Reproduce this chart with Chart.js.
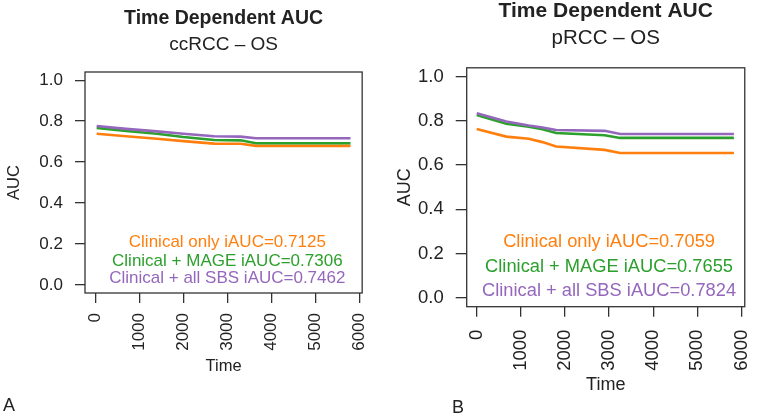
<!DOCTYPE html>
<html>
<head>
<meta charset="utf-8">
<script src="https://cdn.jsdelivr.net/npm/chart.js@4/dist/chart.umd.min.js"></script>
<style>
  body { margin: 0; background: #fff; width: 777px; height: 416px; position: relative; overflow: hidden;
         font-family: "Liberation Sans", Arial, Helvetica, sans-serif; }
  canvas { position: absolute; top: 0; }
  #chartA { left: 0; }
  #chartB { left: 390px; }
  .tag { position: absolute; font-size: 18px; color: #222; }
</style>
</head>
<body>
<canvas id="chartA" width="390" height="416"></canvas>
<canvas id="chartB" width="387" height="416"></canvas>
<div class="tag" style="left:3px; top:395px;">A</div>
<div class="tag" style="left:452px; top:397px;">B</div>
<script>
// model names and their integrated AUCs
const MODEL_NAMES = ['Clinical only', 'Clinical + MAGE', 'Clinical + all SBS'];
const MODEL_COLORS = ['#ff7f0e', '#2ca02c', '#9467bd'];

// ccRCC - OS
const CC_TIME = [30, 700, 1400, 2000, 2700, 3300, 3650, 5800];
const CC_CLINICAL = [0.738, 0.726, 0.714, 0.702, 0.690, 0.689, 0.679, 0.679];
const CC_MAGE = [0.767, 0.752, 0.738, 0.722, 0.708, 0.706, 0.692, 0.692];
const CC_SBS = [0.776, 0.762, 0.750, 0.738, 0.726, 0.724, 0.716, 0.716];
const CC_IAUC = [0.7125, 0.7306, 0.7462];

// pRCC - OS
const P_TIME = [0, 670, 1180, 1490, 1800, 2900, 3250, 5830];
const P_CLINICAL = [0.763, 0.729, 0.719, 0.704, 0.684, 0.669, 0.655, 0.655];
const P_MAGE = [0.827, 0.787, 0.774, 0.762, 0.745, 0.735, 0.723, 0.723];
const P_SBS = [0.835, 0.797, 0.779, 0.770, 0.759, 0.755, 0.741, 0.741];
const P_IAUC = [0.7059, 0.7655, 0.7824];

const AUC_TICKS = [0, 0.2, 0.4, 0.6, 0.8, 1.0];
const TIME_TICKS = [0, 1000, 2000, 3000, 4000, 5000, 6000];

Chart.defaults.font.family = '"Liberation Sans", Arial, Helvetica, sans-serif';
Chart.defaults.color = '#222';

// box round the plot + iAUC text inside it, like the R plot
const rBoxPlugin = {
  id: 'rBox',
  afterDraw(chart, args, opts) {
    const { ctx, chartArea: a, scales } = chart;
    ctx.save();
    ctx.strokeStyle = '#333';
    ctx.lineWidth = 1.3;
    ctx.strokeRect(a.left, a.top, a.right - a.left, a.bottom - a.top);
    ctx.font = opts.fontSize + 'px "Liberation Sans", Arial, sans-serif';
    ctx.textAlign = 'center';
    ctx.textBaseline = 'middle';
    const x = scales.x.getPixelForValue(3000);
    opts.iauc.forEach((v, i) => {
      ctx.fillStyle = MODEL_COLORS[i];
      ctx.fillText(MODEL_NAMES[i] + ' iAUC=' + v.toFixed(4), x, a.bottom - opts.offsets[i]);
    });
    ctx.restore();
  }
};

function makePanel(id, time, series, iauc, s) {
  const datasets = series.map((vals, i) => ({
    label: MODEL_NAMES[i],
    data: time.map((t, k) => ({ x: t, y: vals[k] })),
    borderColor: MODEL_COLORS[i],
    borderWidth: 2.6,
    pointRadius: 0,
    tension: 0,
    order: 2 - i
  }));

  return new Chart(document.getElementById(id), {
    type: 'line',
    data: { datasets },
    plugins: [rBoxPlugin],
    options: {
      responsive: false,
      animation: false,
      layout: { padding: { left: 0, right: s.padRight, top: 0, bottom: 0 } },
      plugins: {
        legend: { display: false },
        tooltip: { enabled: false },
        title: {
          display: true, text: 'Time Dependent AUC', fullSize: false, color: '#222',
          font: { size: s.titleSize, weight: 'bold', lineHeight: 1 },
          padding: { top: s.titleTop, bottom: 0 }
        },
        subtitle: {
          display: true, text: s.subtitle, fullSize: false, color: '#222',
          font: { size: s.titleSize - 0.5, lineHeight: 1 },
          padding: { top: s.subTop, bottom: s.subBottom }
        },
        rBox: { iauc, fontSize: s.legendSize, offsets: s.legendOffsets }
      },
      scales: {
        x: {
          type: 'linear', min: s.xMin, max: s.xMax,
          afterBuildTicks: sc => { sc.ticks = TIME_TICKS.map(v => ({ value: v })); },
          afterFit: sc => { sc.height = s.xHeight; },
          ticks: {
            minRotation: 90, maxRotation: 90, autoSkip: false, padding: s.xTickPad,
            font: { size: s.tickSize }, color: '#222', callback: v => String(v)
          },
          grid: { drawOnChartArea: false, drawTicks: true, tickLength: 10, color: '#333', lineWidth: 1.3 },
          border: { display: false },
          title: {
            display: true, text: 'Time', color: '#222',
            font: { size: s.axisTitleSize, lineHeight: 1 },
            padding: { top: 0, bottom: s.timeBottom }
          }
        },
        y: {
          type: 'linear', min: -0.04, max: 1.04,
          afterBuildTicks: sc => { sc.ticks = AUC_TICKS.map(v => ({ value: v })); },
          afterFit: sc => { sc.width = s.yWidth; },
          ticks: { padding: 12, font: { size: s.tickSize }, color: '#222', callback: v => v.toFixed(1) },
          grid: { drawOnChartArea: false, drawTicks: true, tickLength: s.yTickLen, color: '#333', lineWidth: 1.3 },
          border: { display: false },
          title: {
            display: true, text: 'AUC', color: '#222',
            font: { size: s.axisTitleSize, lineHeight: 1 },
            padding: { top: s.aucTop, bottom: 0 }
          }
        }
      }
    }
  });
}

makePanel('chartA', CC_TIME, [CC_CLINICAL, CC_MAGE, CC_SBS], CC_IAUC, {
  subtitle: 'ccRCC \u2013 OS', padRight: 23, titleSize: 19.5, titleTop: 9.25, subTop: 6.75, subBottom: 17.5,
  legendSize: 17, legendOffsets: [50.5, 32, 14.5], xMin: -235, xMax: 6065, xHeight: 123, xTickPad: 10,
  tickSize: 17, axisTitleSize: 16.5, timeBottom: 41.75, yWidth: 85, yTickLen: 10, aucTop: 6.25
});

makePanel('chartB', P_TIME, [P_CLINICAL, P_MAGE, P_SBS], P_IAUC, {
  subtitle: 'pRCC \u2013 OS', padRight: 5, titleSize: 21, titleTop: 1.2, subTop: 5.6, subBottom: 19.5,
  legendSize: 18.3, legendOffsets: [64.7, 40.2, 16.2], xMin: -227, xMax: 6076, xHeight: 109.3, xTickPad: 13,
  tickSize: 18.5, axisTitleSize: 18, timeBottom: 22, yWidth: 76.7, yTickLen: 11, aucTop: 6
});
</script>
</body>
</html>
